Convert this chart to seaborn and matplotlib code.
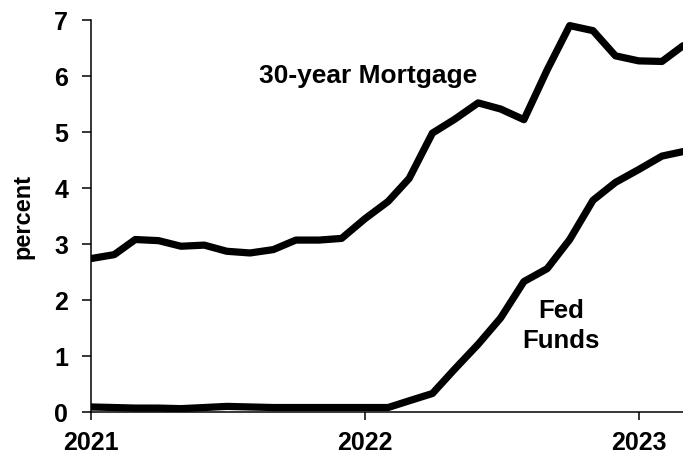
import matplotlib
matplotlib.use("Agg")
from matplotlib import pyplot as plt
import seaborn as sb
import pandas as pd

# monthly averages, Jan 2021 - Mar 2023
months = ["2021-01", "2021-02", "2021-03", "2021-04", "2021-05", "2021-06",
          "2021-07", "2021-08", "2021-09", "2021-10", "2021-11", "2021-12",
          "2022-01", "2022-02", "2022-03", "2022-04", "2022-05", "2022-06",
          "2022-07", "2022-08", "2022-09", "2022-10", "2022-11", "2022-12",
          "2023-01", "2023-02", "2023-03"]
mortgage = [2.74, 2.81, 3.08, 3.06, 2.96, 2.98, 2.87, 2.84, 2.90, 3.07, 3.07, 3.10,
            3.45, 3.76, 4.17, 4.98, 5.23, 5.52, 5.41, 5.22, 6.11, 6.90, 6.81, 6.36,
            6.27, 6.26, 6.54]
fed_funds = [0.09, 0.08, 0.07, 0.07, 0.06, 0.08, 0.10, 0.09, 0.08, 0.08, 0.08, 0.08,
             0.08, 0.08, 0.20, 0.33, 0.77, 1.21, 1.68, 2.33, 2.56, 3.08, 3.78, 4.10,
             4.33, 4.57, 4.65]
year_ticks = ["2021", "2022", "2023"]

dates = pd.to_datetime(months)
df = pd.DataFrame({
    "date": list(dates) * 2,
    "rate": mortgage + fed_funds,
    "series": ["30-year Mortgage"] * len(months) + ["Fed Funds"] * len(months),
})

sb.set_style("ticks", {"axes.edgecolor": "black", "xtick.color": "black",
                       "ytick.color": "black", "text.color": "black",
                       "axes.labelcolor": "black"})
plt.rcParams["font.family"] = ["Liberation Sans", "DejaVu Sans"]
plt.rcParams["font.weight"] = "bold"

fig = plt.figure(figsize=(6.83, 4.58), dpi=100)
ax = fig.add_axes([91/683, 46/458, (683-91)/683, (412-20)/458])

sb.lineplot(data=df, x="date", y="rate", hue="series", palette=["black", "black"],
            linewidth=5.2, legend=False, ax=ax)

ax.set_xlim(dates[0], dates[-1])
ax.set_ylim(0, 7)
ax.set_yticks(range(8))
ax.set_xticks(pd.to_datetime([y + "-01-01" for y in year_ticks]))
ax.set_xticklabels(year_ticks)
ax.set_xlabel("")
ax.set_ylabel("percent", fontsize=17, fontweight="bold", labelpad=14, color="black")

ax.tick_params(axis="y", labelsize=18, length=6.5, width=1.1, pad=10, direction="out")
ax.tick_params(axis="x", labelsize=18, length=6, width=1.1, pad=8, direction="out")
for lab in ax.get_xticklabels() + ax.get_yticklabels():
    lab.set_fontweight("bold")
    lab.set_color("black")

sb.despine(ax=ax)
ax.spines["left"].set_linewidth(1.1)
ax.spines["bottom"].set_linewidth(1.1)

ax.text(pd.Timestamp("2022-01-06"), 5.875, "30-year Mortgage", ha="center", va="baseline",
        fontsize=19, fontweight="bold", color="black")
ax.text(pd.Timestamp("2022-09-19"), 1.68, "Fed", ha="center", va="baseline",
        fontsize=18.5, fontweight="bold", color="black")
ax.text(pd.Timestamp("2022-09-19"), 1.14, "Funds", ha="center", va="baseline",
        fontsize=18.5, fontweight="bold", color="black")

fig.savefig("out.png", dpi=100)
